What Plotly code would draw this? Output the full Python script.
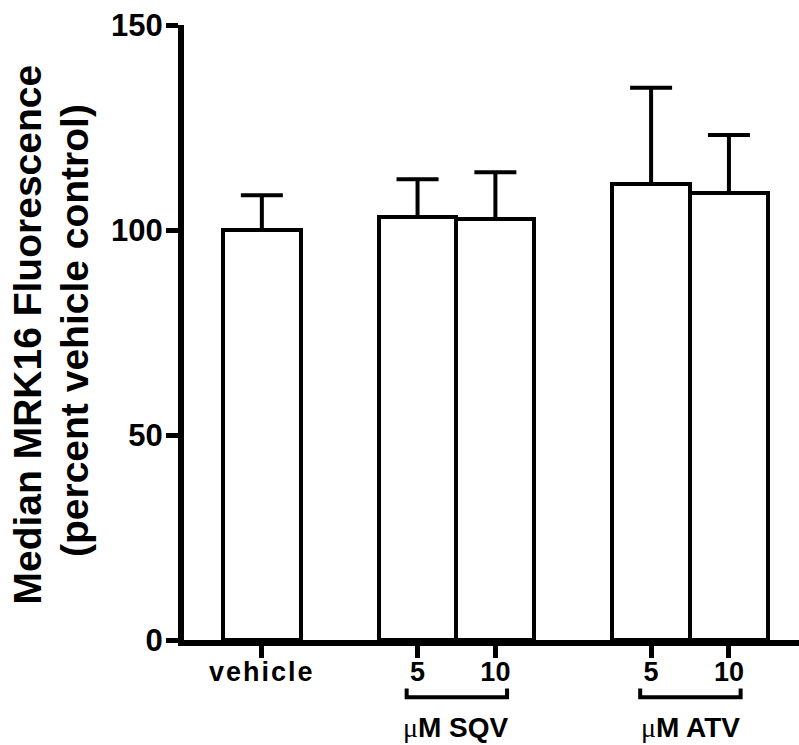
import plotly.graph_objects as go

# Bar chart data: median MRK16 fluorescence as percent of vehicle control
categories = ["vehicle", "5", "10", "5", "10"]
positions = [0, 2, 3, 5, 6]
means = [100.0, 103.2, 102.7, 111.2, 109.0]
sem = [8.5, 9.2, 11.4, 23.5, 14.2]
y_ticks = [0, 50, 100, 150]
title_lines = ["Median MRK16 Fluorescence", "(percent vehicle control)"]

groups = [
    {"label": "μM SQV", "left": 1.86, "right": 3.15, "center": 2.5},
    {"label": "μM ATV", "left": 4.86, "right": 6.15, "center": 5.5},
]

FAMILY = "Liberation Sans, Arial, sans-serif"
TICK_FONT = dict(family=FAMILY, size=27, color="black", weight="bold")

fig = go.Figure()
fig.add_trace(go.Bar(
    x=positions,
    y=means,
    width=1.0,
    marker=dict(color="white", line=dict(color="black", width=4)),
    error_y=dict(type="data", array=sem, arrayminus=[0] * len(sem),
                 symmetric=False, color="black", thickness=4, width=21),
    showlegend=False,
    hoverinfo="skip",
))

# brackets under the concentration labels, with the group names beneath
for g in groups:
    fig.add_shape(type="path", xref="x", yref="paper",
                  path=f"M {g['left']},-0.079 L {g['left']},-0.093 L {g['right']},-0.093 L {g['right']},-0.079",
                  line=dict(color="black", width=4))
    fig.add_annotation(
        x=g["center"], xref="x", y=-0.1415, yref="paper",
        text=g["label"].replace("μ", "<span style='font-family:Liberation Serif;font-weight:normal'>μ</span>"),
        showarrow=False, font=dict(family=FAMILY, size=28, color="black", weight="bold"),
        xanchor="center", yanchor="middle",
    )

# two-line rotated y-axis title
for xpos, ypos, line in zip([-0.2537, -0.1789], [0.4967, 0.504], title_lines):
    fig.add_annotation(
        x=xpos, xref="paper", y=ypos, yref="paper", text=line, textangle=-90,
        showarrow=False, xanchor="center", yanchor="middle",
        font=dict(family=FAMILY, size=39, color="black", weight="bold"),
    )

ticktext = [f"<span style='letter-spacing:2px'>{c}</span>" if len(c) > 2 else c for c in categories]

fig.update_layout(
    width=799, height=745,
    margin=dict(l=184, r=0, t=25, b=105),
    paper_bgcolor="white", plot_bgcolor="white",
    bargap=0,
    xaxis=dict(
        range=[-1, 6.9],
        tickmode="array", tickvals=positions, ticktext=ticktext,
        ticks="outside", ticklen=12, tickwidth=5, tickcolor="black",
        ticklabelstandoff=-9,
        showline=True, linewidth=6, linecolor="black",
        showgrid=False, zeroline=False,
        tickfont=TICK_FONT,
    ),
    yaxis=dict(
        range=[0, 150],
        tickmode="array", tickvals=y_ticks, ticktext=[str(v) for v in y_ticks],
        ticks="outside", ticklen=12, tickwidth=5, tickcolor="black",
        ticklabelstandoff=-3,
        showline=True, linewidth=6, linecolor="black",
        showgrid=False, zeroline=False,
        tickfont=dict(family=FAMILY, size=31, color="black", weight="bold"),
    ),
)

fig.write_html("out.html")
